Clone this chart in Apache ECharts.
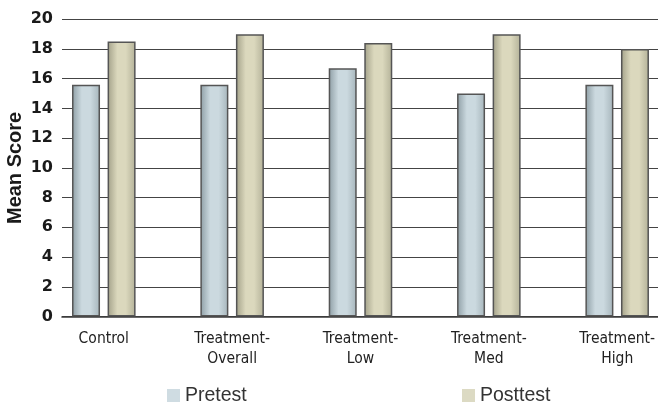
<!DOCTYPE html>
<html>
<head>
<meta charset="utf-8">
<script src="https://cdn.jsdelivr.net/npm/echarts@6/dist/echarts.min.js"></script>
<style>
  html, body { margin: 0; padding: 0; background: #ffffff; }
  #chart { width: 658px; height: 402px; }
</style>
</head>
<body>
<div id="chart"></div>
<script>
// Group labels (two-line labels split on the hyphen)
const categories = ['Control', 'Treatment-\nOverall', 'Treatment-\nLow', 'Treatment-\nMed', 'Treatment-\nHigh'];
// Mean scores per group
const pretest  = [15.6, 15.6, 16.7, 15.0, 15.6];
const posttest = [18.5, 19.0, 18.4, 19.0, 18.0];
// Value axis
const yMin = 0, yMax = 20, yStep = 2;

const seriesNames = ['Pretest', 'Posttest'];

// Group positions run along a numeric axis (group i sits at x = i);
// the visible window starts a little right of the first band edge.
const groupIndex = categories.map((_, i) => i);
const xWindow = { min: -0.3257, max: 4.318 };

function cylinder(edgeL, mid, edgeR) {
  return new echarts.graphic.LinearGradient(0, 0, 1, 0, [
    { offset: 0, color: edgeL },
    { offset: 0.35, color: mid },
    { offset: 0.65, color: mid },
    { offset: 1, color: edgeR }
  ]);
}

const chart = echarts.init(document.getElementById('chart'), null, { renderer: 'canvas' });

chart.setOption({
  animation: false,
  backgroundColor: '#ffffff',
  grid: { left: 62, right: 0, top: 19.3, bottom: 85.5, containLabel: false, outerBoundsMode: 'none' },
  xAxis: {
    type: 'value', min: xWindow.min, max: xWindow.max,
    axisLine: { show: true, onZero: false, lineStyle: { color: '#3a3a3a', width: 1.6 } },
    axisTick: { show: false },
    splitLine: { show: false },
    axisLabel: {
      customValues: groupIndex,
      formatter: v => categories[Math.round(v)],
      margin: 12,
      fontFamily: "'DejaVu Sans Condensed', 'Liberation Sans Narrow', sans-serif",
      fontSize: 15.5, lineHeight: 20, color: '#222'
    }
  },
  yAxis: {
    type: 'value', min: yMin, max: yMax, interval: yStep,
    name: 'Mean Score', nameLocation: 'middle', nameRotate: 90, nameGap: 37,
    nameMoveOverlap: false,
    nameTextStyle: { fontFamily: 'Liberation Sans', fontWeight: 'bold', fontSize: 20, color: '#1a1a1a' },
    axisLine: { show: false }, axisTick: { show: false },
    axisLabel: { margin: 9, fontFamily: 'DejaVu Sans', fontWeight: 'bold', fontSize: 16, color: '#1a1a1a' },
    splitLine: { show: true, lineStyle: { color: '#444', width: 1 } }
  },
  legend: [
    {
      data: [{ name: seriesNames[0], itemStyle: { color: '#cfdce2', borderWidth: 0 } }],
      left: 167, top: 386, padding: 0, icon: 'rect', itemWidth: 13, itemHeight: 14,
      textStyle: { fontFamily: 'Liberation Sans', fontSize: 19.5, color: '#333' }
    },
    {
      data: [{ name: seriesNames[1], itemStyle: { color: '#dcdac3', borderWidth: 0 } }],
      left: 462, top: 386, padding: 0, icon: 'rect', itemWidth: 13, itemHeight: 14,
      textStyle: { fontFamily: 'Liberation Sans', fontSize: 19.5, color: '#333' }
    }
  ],
  series: [
    {
      name: seriesNames[0], type: 'bar',
      data: pretest.map((v, i) => [groupIndex[i], v]),
      barWidth: 28, barGap: '27%',
      itemStyle: {
        color: cylinder('#8e9ea5', '#cbd9df', '#a6b5bb'),
        borderColor: '#555', borderWidth: 1.5
      }
    },
    {
      name: seriesNames[1], type: 'bar',
      data: posttest.map((v, i) => [groupIndex[i], v]),
      barWidth: 28, barGap: '27%',
      itemStyle: {
        color: cylinder('#a3a189', '#dbd8bd', '#b3b198'),
        borderColor: '#555', borderWidth: 1.5
      }
    }
  ]
});
</script>
</body>
</html>
